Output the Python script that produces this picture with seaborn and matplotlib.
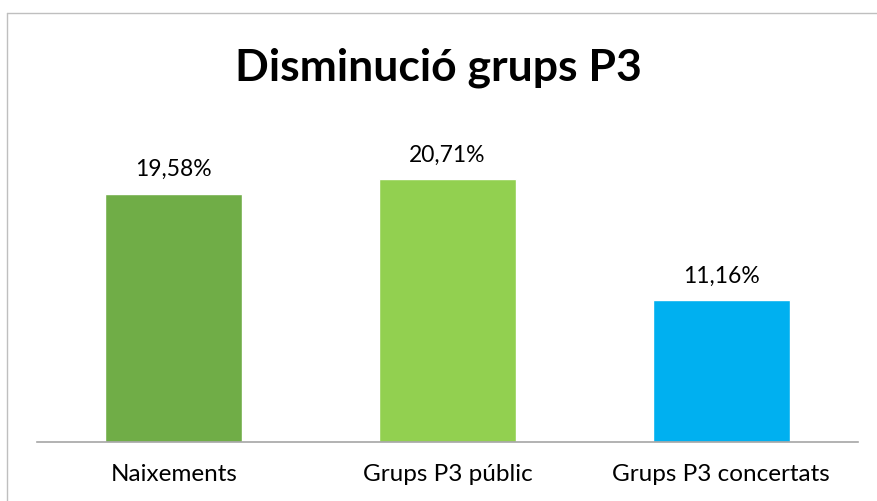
import matplotlib
matplotlib.use('Agg')
import matplotlib.pyplot as plt
import seaborn as sns
import pandas as pd
from matplotlib.lines import Line2D

# Data
categories = ['Naixements', 'Grups P3 públic', 'Grups P3 concertats']
values = [0.1958, 0.2071, 0.1116]
colors = ['#70AD47', '#92D050', '#00B0F0']
title = 'Disminució grups P3'

df = pd.DataFrame({'Categoria': categories, 'Valor': values})

sns.set_style('white')
plt.rcParams['font.family'] = ['Lato', 'DejaVu Sans']

fig = plt.figure(figsize=(8.77, 5.01), dpi=100)
ax = fig.add_axes([37 / 877, 59 / 501, 821 / 877, 317 / 501])

sns.barplot(data=df, x='Categoria', y='Valor', hue='Categoria',
            palette=colors, width=0.5, legend=False, ax=ax, saturation=1)

ax.set_ylim(0, 0.25)
ax.set_xlim(-0.5, 2.5)
ax.set_xlabel('')
ax.set_ylabel('')
ax.set_yticks([])
ax.tick_params(axis='x', length=0, pad=16, labelsize=17.5, labelcolor='#000000')
for s in ['top', 'right', 'left']:
    ax.spines[s].set_visible(False)
ax.spines['bottom'].set_color('#A6A6A6')
ax.spines['bottom'].set_linewidth(1.2)

for cont in ax.containers:
    labels = [f'{v * 100:.2f}%'.replace('.', ',') for v in cont.datavalues]
    ax.bar_label(cont, labels=labels, padding=10, fontsize=16.5, color='#000000')

fig.text(0.5, 1 - 68 / 501, title, ha='center', va='center',
         fontsize=32, fontweight='bold', color='#000000')

# chart border (only top and left edges visible in the crop)
fig.add_artist(Line2D([7 / 877, 1], [1 - 13 / 501, 1 - 13 / 501],
                      transform=fig.transFigure, color='#BFBFBF', lw=1))
fig.add_artist(Line2D([7 / 877, 7 / 877], [0, 1 - 13 / 501],
                      transform=fig.transFigure, color='#BFBFBF', lw=1))

fig.savefig('out.png', dpi=100)
